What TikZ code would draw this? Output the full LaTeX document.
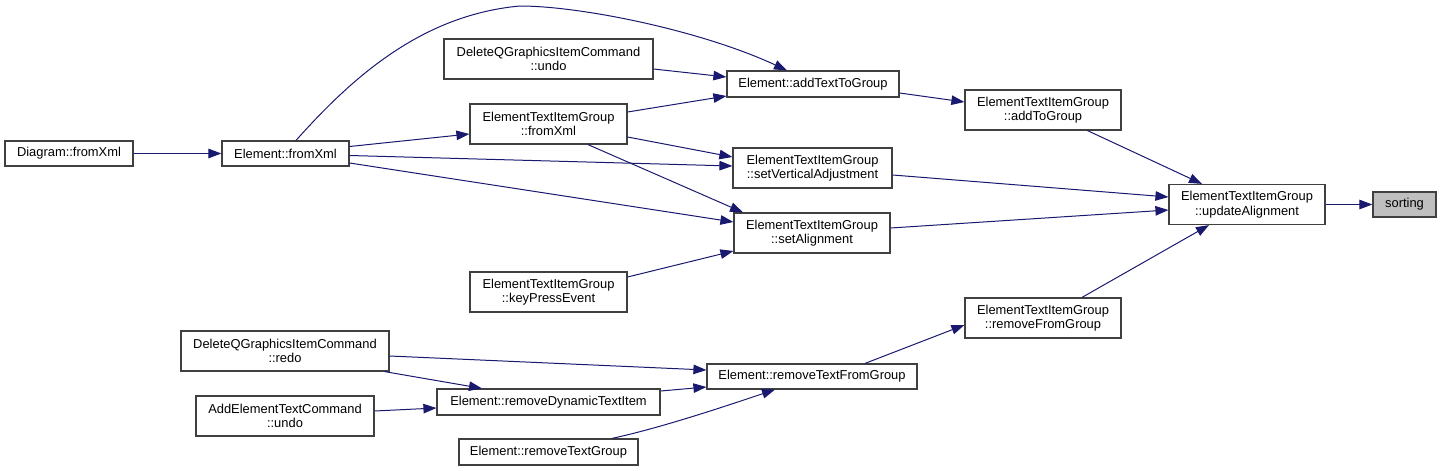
\documentclass[tikz,border=0pt]{standalone}
\usepackage{fontspec}
\setmainfont{Liberation Sans}
\usetikzlibrary{arrows.meta}
\definecolor{edgec}{HTML}{191970}
\definecolor{boxc}{HTML}{404040}
\definecolor{sortc}{HTML}{BFBFBF}
\tikzset{
  fn/.style={draw=boxc, line width=1.2pt, fill=white, rectangle, inner sep=0pt, align=center,
    font=\fontsize{12.9}{14.5}\selectfont, text=black},
  call/.style={draw=edgec, line width=1pt, -{Triangle[length=13pt,width=9.5pt,fill=edgec]}}
}
\begin{document}
\begin{tikzpicture}[x=1pt,y=-1pt]
\useasboundingbox (0,0) rectangle (1441,471);
% nodes
\node[fn, minimum width=128pt, minimum height=25pt] (diag) at (69,153.5) {Diagram::fromXml};
\node[fn, minimum width=127pt, minimum height=25pt] (efx) at (285.5,153.5) {Element::fromXml};
\node[fn, minimum width=209pt, minimum height=40pt] (dundo) at (548.5,59) {DeleteQGraphicsItemCommand\\::undo};
\node[fn, minimum width=157pt, minimum height=40pt] (etfx) at (548.5,124) {ElementTextItemGroup\\::fromXml};
\node[fn, minimum width=157pt, minimum height=40pt] (kpe) at (548.5,292) {ElementTextItemGroup\\::keyPressEvent};
\node[fn, minimum width=172pt, minimum height=26pt] (addt) at (813,84) {Element::addTextToGroup};
\node[fn, minimum width=159pt, minimum height=40pt] (setv) at (812.5,168) {ElementTextItemGroup\\::setVerticalAdjustment};
\node[fn, minimum width=156pt, minimum height=40pt] (seta) at (812,233) {ElementTextItemGroup\\::setAlignment};
\node[fn, minimum width=156pt, minimum height=40pt] (addg) at (1043,110) {ElementTextItemGroup\\::addToGroup};
\node[fn, minimum width=156pt, minimum height=40pt] (upd) at (1247,204.5) {ElementTextItemGroup\\::updateAlignment};
\node[fn, fill=sortc, minimum width=63pt, minimum height=25pt] (sort) at (1404.5,204.5) {sorting};
\node[fn, minimum width=156pt, minimum height=40pt] (rmfg) at (1043,318) {ElementTextItemGroup\\::removeFromGroup};
\node[fn, minimum width=210pt, minimum height=25pt] (rtfg) at (812,376.5) {Element::removeTextFromGroup};
\node[fn, minimum width=208pt, minimum height=40pt] (dredo) at (285,351) {DeleteQGraphicsItemCommand\\::redo};
\node[fn, minimum width=223pt, minimum height=26pt] (rdti) at (548.5,402) {Element::removeDynamicTextItem};
\node[fn, minimum width=178pt, minimum height=40pt] (aundo) at (285,416) {AddElementTextCommand\\::undo};
\node[fn, minimum width=179pt, minimum height=26pt] (rtg) at (548.5,452) {Element::removeTextGroup};
% edges
\draw[call] (diag.east) -- (efx.west);
\draw[call] ([yshift=7pt]efx.east) -- ([yshift=-10pt]etfx.west);
\draw[call] ([xshift=10.5pt]efx.north) .. controls (350,80) and (420,15) .. (520,6)
   .. controls (580,6) and (700,30) .. ([xshift=-26pt]addt.north);
\draw[call] ([yshift=-2pt]efx.east) -- ([yshift=2pt]setv.west);
\draw[call] ([yshift=-9.5pt]efx.east) -- ([yshift=11pt]seta.west);
\draw[call] ([yshift=-10pt]dundo.east) -- ([yshift=7pt]addt.west);
\draw[call] ([yshift=12pt]etfx.east) -- ([yshift=-12pt]addt.west);
\draw[call] ([yshift=-13pt]etfx.east) -- ([yshift=11pt]setv.west);
\draw[call] ([xshift=39.5pt]etfx.south) -- ([xshift=-69pt]seta.north);
\draw[call] ([yshift=15pt]kpe.east) -- ([yshift=-18pt]seta.west);
\draw[call] ([yshift=-9pt]addt.east) -- ([yshift=8pt]addg.west);
\draw[call] ([xshift=44.5pt]addg.south) -- ([xshift=-45pt]upd.north);
\draw[call] ([yshift=-7pt]setv.east) -- ([yshift=7.5pt]upd.west);
\draw[call] ([yshift=5pt]seta.east) -- ([yshift=-5.5pt]upd.west);
\draw[call] ([xshift=39pt]rmfg.north) -- ([xshift=-38pt]upd.south);
\draw[call] (upd.east) -- (sort.west);
\draw[call] ([xshift=53pt]rtfg.north) -- ([yshift=-7pt]rmfg.west);
\draw[call] ([yshift=-5pt]dredo.east) -- ([yshift=6.5pt]rtfg.west);
\draw[call] ([xshift=-5pt]dredo.south east) -- ([xshift=-66.5pt]rdti.north);
\draw[call] ([yshift=5pt]aundo.east) -- ([yshift=-6pt]rdti.west);
\draw[call] ([yshift=11pt]rdti.east) -- ([yshift=-10.5pt]rtfg.west);
\draw[call] ([xshift=63.5pt]rtg.north) .. controls (660,428) and (720,408) .. ([xshift=-37pt]rtfg.south);
\end{tikzpicture}
\end{document}
